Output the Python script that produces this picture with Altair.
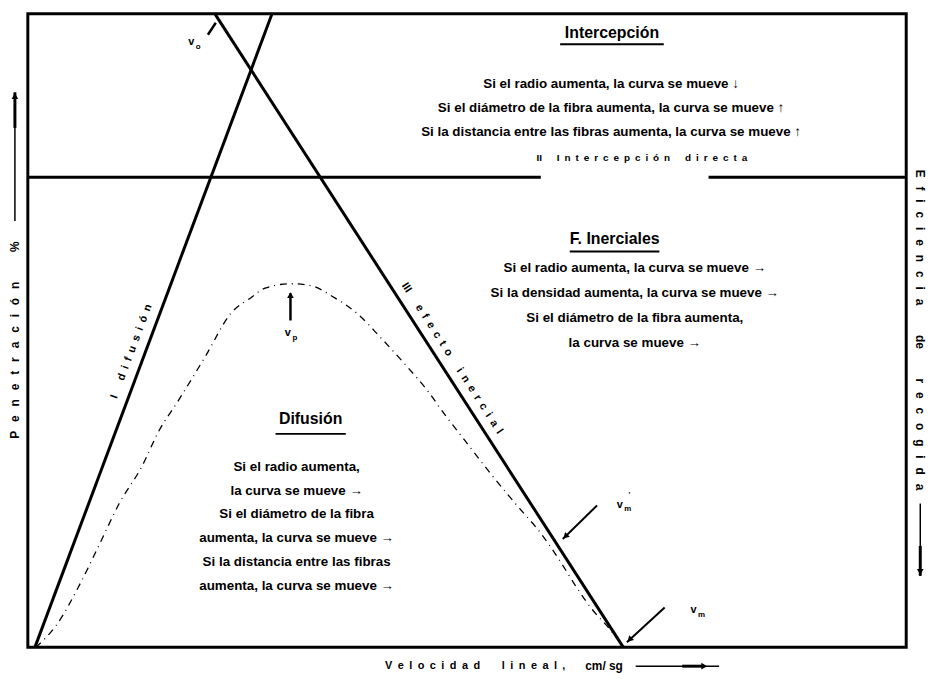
import altair as alt
import pandas as pd

# Coordinates: v = linear velocity (0-100 % of the axis), p = penetration / efficiency (0-100 %)
# --- main straight lines ---
diff_v = [0.8, 27.8]
diff_p = [0, 100]
inert_v = [21.3, 67.8]
inert_p = [100, 0]
interc_p = 74.2
interc_seg1_v = [0, 58.4]
interc_seg2_v = [77.5, 100]

# --- penetration curve (dash-dot) ---
curve_v = [0.9, 3.3, 5.9, 8.1, 10.4, 13.0, 14.9, 17.2, 20.2, 23.1, 25.4, 27.0, 29.9,
           32.2, 34.9, 37.5, 40.1, 42.8, 45.4, 47.6, 49.9, 52.7, 55.5, 58.4, 60.6,
           62.5, 64.3, 66.3, 67.5]
curve_p = [0, 3.6, 9.9, 16.1, 22.7, 28.6, 34.1, 39.1, 45.9, 52.7, 55.2, 56.7, 57.4,
           57.1, 55.2, 52.7, 49.0, 44.9, 40.7, 36.5, 32.4, 27.4, 22.7, 18.0, 13.6,
           9.4, 5.9, 2.8, 0.6]

# --- text blocks ---
top_title = "Intercepción"
top_lines = ["Si el radio aumenta, la curva se mueve ↓",
             "Si el diámetro de la fibra aumenta, la curva se mueve ↑",
             "Si la distancia entre las fibras aumenta, la curva se mueve ↑"]
inert_title = "F. Inerciales"
inert_lines = ["Si el radio aumenta, la curva se mueve →",
               "Si la densidad aumenta, la curva se mueve →",
               "Si el diámetro de la fibra aumenta,",
               "la curva se mueve →"]
diff_title = "Difusión"
diff_lines = ["Si el radio aumenta,", "la curva se mueve →",
              "Si el diámetro de la fibra", "aumenta, la curva se mueve →",
              "Si la distancia entre las fibras", "aumenta, la curva se mueve →"]

top_title_pos = (66.5, 97.0)
top_lines_v = 66.4
top_lines_p = [88.9, 85.1, 81.4]
inert_title_pos = (66.8, 64.4)
inert_lines_v = 69.1
inert_lines_p = [59.8, 55.9, 52.0, 48.1]
diff_title_pos = (32.2, 36.0)
diff_lines_v = 30.6
diff_lines_p = [28.5, 24.7, 21.0, 17.2, 13.5, 9.7]

underlines = [  # v1, v2, p
    (60.6, 72.4, 95.2),
    (61.7, 71.9, 62.5),
    (28.2, 36.2, 33.7),
]

# small spaced labels: words, v, p, angle, align, size
small_labels = [
    (["I", "difusión"], 11.8, 46.7, 290.5, "center", 11),
    (["III", "efecto", "inercial"], 48.3, 45.6, 57.2, "center", 11),
    (["II", "Intercepción", "directa"], 57.9, 77.3, 0, "left", 10),
]
x_label_words = ["Velocidad", "lineal,"]
x_label_pos = (61.2, -2.97)
unit_label = ("cm/ sg", 65.6, -2.97)
axis_labels = [
    (["Penetración", "%"], -1.47, 48.5, 270),
    (["Eficiencia", "de", "recogida"], 101.6, 50.1, 90),
]

# velocity markers: main letter and subscript
v_marks = [("v", 18.6, 95.5), ("v", 29.6, 49.6), ("v", 67.4, 22.5), ("v", 75.8, 5.9)]
v_subs = [("o", 19.4, 94.7), ("p", 30.4, 48.8), ("m", 68.3, 21.8), ("m", 76.7, 5.1), ("'", 68.5, 24.0)]

# arrows: v1, p1 (tail) -> v2, p2 (head), width
arrows = [
    (20.5, 96.7, 21.4, 98.6, 2.5),
    (29.9, 51.6, 29.9, 55.9, 2.5),
    (64.8, 22.4, 60.9, 17.1, 2),
    (72.5, 6.3, 68.2, 0.8, 2),
    (-1.47, 67.3, -1.47, 87.6, 1.5),
    (-1.47, 82.0, -1.47, 87.6, 3),
    (101.6, 22.7, 101.6, 11.3, 1.5),
    (101.6, 16.0, 101.6, 11.3, 3),
    (69.2, -2.97, 78.7, -2.97, 1.5),
    (74.5, -2.97, 77.0, -2.97, 3),
]
heads = [  # v, p, angle
    (29.9, 55.6, 0),
    (61.2, 17.5, 225),
    (68.5, 1.2, 225),
    (-1.47, 87.0, 0),
    (101.6, 11.9, 180),
    (77.0, -2.97, 90),
]


def spaced(words, letter_gap="\u2002", word_gap="\u2002\u2002\u2002"):
    return word_gap.join(letter_gap.join(w) if len(w) > 3 else w for w in words)


# ---------------- build chart ----------------
def X(f):
    return alt.X(f, type="quantitative", scale=alt.Scale(domain=[0, 100], nice=False, zero=False), axis=None)


def Y(f):
    return alt.Y(f, type="quantitative", scale=alt.Scale(domain=[0, 100], nice=False, zero=False), axis=None)


rows = []
for v, p in zip(diff_v, diff_p):
    rows.append({"v": v, "p": p, "seg": "difusion"})
for v, p in zip(inert_v, inert_p):
    rows.append({"v": v, "p": p, "seg": "inercial"})
for v in interc_seg1_v:
    rows.append({"v": v, "p": interc_p, "seg": "interc1"})
for v in interc_seg2_v:
    rows.append({"v": v, "p": interc_p, "seg": "interc2"})
lines_df = pd.DataFrame(rows)

main_lines = alt.Chart(lines_df).mark_line(color="black", strokeWidth=3).encode(
    x=X("v"), y=Y("p"), detail="seg:N")

curve_df = pd.DataFrame({"v": curve_v, "p": curve_p})
curve = alt.Chart(curve_df).mark_line(color="black", strokeWidth=1.3, strokeDash=[7, 5, 1, 5],
                                      interpolate="monotone").encode(x=X("v"), y=Y("p"))

arrows_df = pd.DataFrame(arrows, columns=["v", "p", "v2", "p2", "w"])
arrow_rules = alt.Chart(arrows_df).mark_rule(color="black").encode(
    x=X("v"), y=Y("p"), x2="v2", y2="p2", strokeWidth=alt.StrokeWidth("w:Q", scale=None))

heads_df = pd.DataFrame(heads, columns=["v", "p", "a"])
arrow_heads = alt.Chart(heads_df).mark_point(shape="triangle-up", filled=True, color="black",
                                             size=45, opacity=1).encode(
    x=X("v"), y=Y("p"), angle=alt.Angle("a:Q", scale=None))

ul_df = pd.DataFrame(underlines, columns=["v", "v2", "p"])
ul = alt.Chart(ul_df).mark_rule(color="black", strokeWidth=2).encode(x=X("v"), x2="v2", y=Y("p"))

title_rows = [{"t": t, "v": v, "p": p} for t, v, p in
              [(top_title, *top_title_pos), (inert_title, *inert_title_pos), (diff_title, *diff_title_pos)]]
body_rows = []
for lines, vv, ps in [(top_lines, top_lines_v, top_lines_p), (inert_lines, inert_lines_v, inert_lines_p),
                      (diff_lines, diff_lines_v, diff_lines_p)]:
    for t, p in zip(lines, ps):
        body_rows.append({"t": t, "v": vv, "p": p})

titles = alt.Chart(pd.DataFrame(title_rows)).mark_text(
    font="Liberation Sans", fontWeight="bold", fontSize=16, color="black",
    align="center", baseline="middle").encode(x=X("v"), y=Y("p"), text="t:N")
body = alt.Chart(pd.DataFrame(body_rows)).mark_text(
    font="Liberation Sans", fontWeight="bold", fontSize=13.5, color="black",
    align="center", baseline="middle").encode(x=X("v"), y=Y("p"), text="t:N")

small_layers = []
for words, v, p, a, al, fs in small_labels:
    d = pd.DataFrame([{"t": spaced(words), "v": v, "p": p, "a": a}])
    small_layers.append(alt.Chart(d).mark_text(font="Liberation Sans", fontSize=fs, fontWeight="bold",
                                               color="black", align=al, baseline="middle").encode(
        x=X("v"), y=Y("p"), text="t:N", angle=alt.Angle("a:Q", scale=None)))

xl_df = pd.DataFrame([{"t": spaced(x_label_words, "\u2002", "\u2002\u2002\u2002\u2002"),
                       "v": x_label_pos[0], "p": x_label_pos[1]}])
x_label = alt.Chart(xl_df).mark_text(font="Liberation Sans", fontSize=11, fontWeight="bold", color="black",
                                     align="right", baseline="middle").encode(x=X("v"), y=Y("p"), text="t:N")

unit_df = pd.DataFrame([{"t": unit_label[0].replace(" ", "\u00a0"), "v": unit_label[1], "p": unit_label[2]}])
unit = alt.Chart(unit_df).mark_text(font="Liberation Sans", fontSize=12, fontWeight="bold", color="black",
                                    align="center", baseline="middle").encode(x=X("v"), y=Y("p"), text="t:N")

ax_df = pd.DataFrame([{"t": spaced(w, "\u2002\u2005", "\u2002" * 5), "v": v, "p": p, "a": a}
                      for w, v, p, a in axis_labels])
ax_text = alt.Chart(ax_df).mark_text(font="Liberation Sans", fontSize=12, fontWeight="bold",
                                     color="black", align="center", baseline="middle").encode(
    x=X("v"), y=Y("p"), text="t:N", angle=alt.Angle("a:Q", scale=None))

vm_df = pd.DataFrame(v_marks, columns=["t", "v", "p"])
vm = alt.Chart(vm_df).mark_text(font="Liberation Sans", fontSize=11, fontWeight="bold", color="black",
                                align="center", baseline="middle").encode(x=X("v"), y=Y("p"), text="t:N")
vs_df = pd.DataFrame(v_subs, columns=["t", "v", "p"])
vs = alt.Chart(vs_df).mark_text(font="Liberation Sans", fontSize=8, fontWeight="bold", color="black",
                                align="center", baseline="middle").encode(x=X("v"), y=Y("p"), text="t:N")

chart = alt.layer(main_lines, curve, arrow_rules, arrow_heads, ul, titles, body, *small_layers,
                  x_label, unit, ax_text, vm, vs).properties(
    width=886, height=639,
    autosize=alt.AutoSizeParams(type="none"),
    padding={"left": 20, "top": 3, "right": 25, "bottom": 28},
    background="white",
).configure_view(stroke="black", strokeWidth=3)

chart.save("out.html", embed_options={"renderer": "svg", "actions": False})
